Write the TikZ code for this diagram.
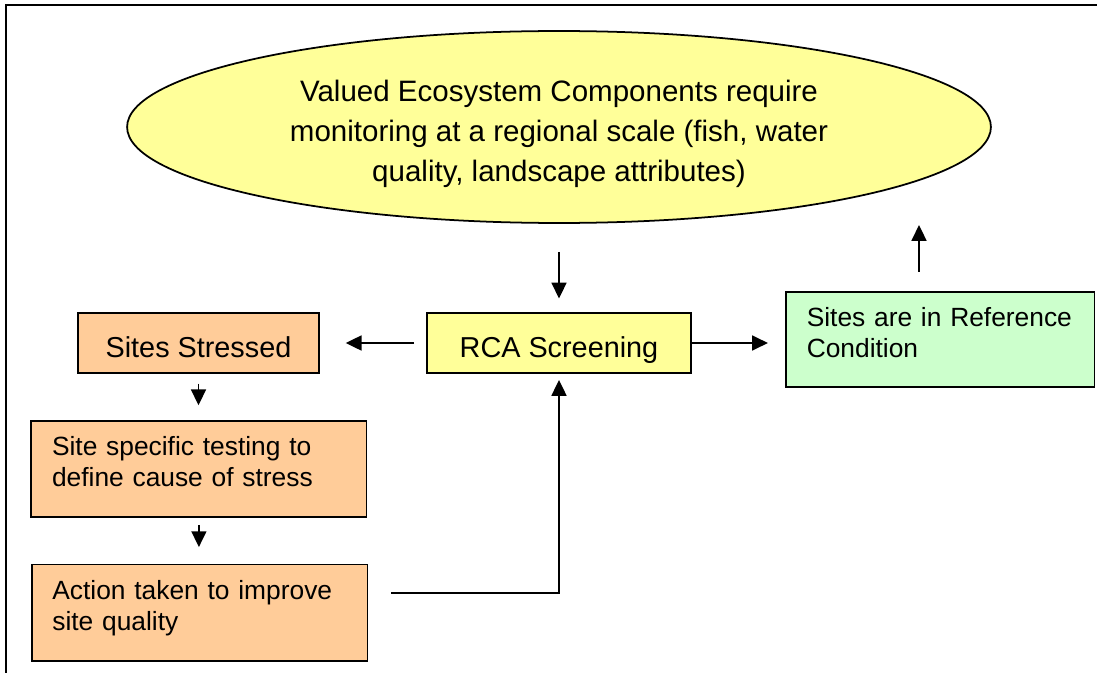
\documentclass[tikz,border=0pt]{standalone}
\usepackage{fontspec}
\setmainfont{Liberation Sans}
\usetikzlibrary{shapes.geometric,arrows.meta}
\definecolor{vecyellow}{HTML}{FFFF99}
\definecolor{stressorange}{HTML}{FFCC99}
\definecolor{refgreen}{HTML}{CCFFCC}
\newcommand{\liftrule}[1]{\rule{0pt}{#1}}
\newcommand{\droprule}[1]{\rule[-#1]{0pt}{#1}}
\tikzset{
  box/.style={draw, line width=1pt, inner sep=0pt},
  onebox/.style={box, font=\fontsize{16.4}{19.7}\selectfont, text height=16.2pt, text depth=0pt},
  twobox/.style={box, font=\fontsize{15}{17.4}\selectfont, align=left, inner xsep=11.8pt},
  arr/.style={-{Triangle[length=9pt,width=8.5pt]}, line width=1pt}
}
\begin{document}
\begin{tikzpicture}[x=0.02cm,y=-0.02cm]
\clip (0,0) rectangle (1097,672);
\draw[line width=1.1pt] (6,5) rectangle (1120,700);
\node[ellipse, draw, line width=1pt, fill=vecyellow, minimum width=17.28cm, minimum height=3.84cm, inner sep=0pt, align=center, font=\fontsize{16.8}{22.7}\selectfont] (vec) at (559,127) {\liftrule{19.8pt}Valued Ecosystem Components require\\monitoring at a regional scale (fish, water\\quality, landscape attributes)};
\node[onebox, fill=stressorange, minimum width=4.82cm, minimum height=1.2cm] (stress) at (198.5,343) {Sites Stressed};
\node[onebox, fill=vecyellow, minimum width=5.29cm, minimum height=1.19cm] (rca) at (559,343) {RCA Screening};
\node[twobox, fill=refgreen, text width=151.9pt, minimum height=1.91cm] (ref) at (940.2,339.5) {Sites are in Reference\\Condition\droprule{8pt}};
\node[twobox, fill=stressorange, text width=167.2pt, minimum height=1.92cm] (test) at (198.9,468.7) {Site specific testing to\\define cause of stress\droprule{8pt}};
\node[twobox, fill=stressorange, text width=167.5pt, minimum height=1.93cm] (act) at (199.5,612.7) {Action taken to improve\\site quality\droprule{8pt}};
\coordinate (upend) at (919,225);
\coordinate (back) at (391,593);
\draw[arr, shorten <=15.9pt, shorten >=7.9pt] (vec.south) -- (rca.north);
\draw[arr, shorten <=6.7pt, shorten >=14.7pt] (rca.west) -- (stress.east);
\draw[arr, shorten >=9.8pt] (rca.east) -- (rca.east -| ref.west);
\draw[arr, shorten <=10.8pt] (ref.north -| upend) -- (upend);
\draw[arr, shorten <=5.5pt, shorten >=8.3pt] (stress.south) -- (stress.south |- test.north);
\draw[arr, shorten <=4.1pt, shorten >=9.4pt] (test.south) -- (test.south |- act.north);
\draw[arr, shorten >=3.6pt] (back) -| (rca.south);
\end{tikzpicture}
\end{document}
